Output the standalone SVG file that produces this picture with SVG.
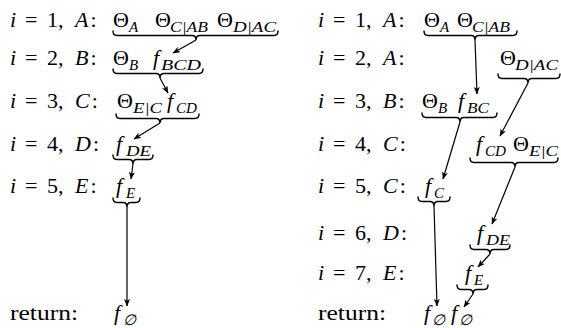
<svg xmlns="http://www.w3.org/2000/svg" width="561" height="328" viewBox="0 0 561 328">
<style>
text{font-family:Liberation Serif, Times New Roman, Times, DejaVu Serif, serif;font-size:22px;fill:#000}
.it{font-style:italic}
.s{font-size:15px;font-style:italic}
.br{fill:none;stroke:#000;stroke-width:1.4;stroke-linecap:round}
.ar{fill:none;stroke:#000;stroke-width:1.2;marker-end:url(#ah)}
</style>
<defs>
<marker id="ah" markerUnits="userSpaceOnUse" markerWidth="9" markerHeight="8" refX="7" refY="3" orient="auto">
<path d="M0,0 L7.5,3 L0,6 L1.8,3 z" fill="#000"/>
</marker>
</defs>
<rect width="561" height="328" fill="#fff"/>

<g id="labels-left">
<text y="27"><tspan x="10" class="it">i</tspan><tspan x="25">=</tspan><tspan x="47">1,</tspan><tspan x="75" class="it">A</tspan><tspan dx="2">:</tspan></text>
<text y="65"><tspan x="10" class="it">i</tspan><tspan x="25">=</tspan><tspan x="47">2,</tspan><tspan x="75" class="it">B</tspan><tspan dx="2">:</tspan></text>
<text y="108"><tspan x="10" class="it">i</tspan><tspan x="25">=</tspan><tspan x="47">3,</tspan><tspan x="75" class="it">C</tspan><tspan dx="2">:</tspan></text>
<text y="151"><tspan x="10" class="it">i</tspan><tspan x="25">=</tspan><tspan x="47">4,</tspan><tspan x="75" class="it">D</tspan><tspan dx="2">:</tspan></text>
<text y="193"><tspan x="10" class="it">i</tspan><tspan x="25">=</tspan><tspan x="47">5,</tspan><tspan x="75" class="it">E</tspan><tspan dx="2">:</tspan></text>
<text x="10" y="320" textLength="68" lengthAdjust="spacingAndGlyphs">return:</text>
</g>

<g id="labels-right">
<text y="27"><tspan x="318" class="it">i</tspan><tspan x="333">=</tspan><tspan x="355">1,</tspan><tspan x="383" class="it">A</tspan><tspan dx="2">:</tspan></text>
<text y="65"><tspan x="318" class="it">i</tspan><tspan x="333">=</tspan><tspan x="355">2,</tspan><tspan x="383" class="it">A</tspan><tspan dx="2">:</tspan></text>
<text y="108"><tspan x="318" class="it">i</tspan><tspan x="333">=</tspan><tspan x="355">3,</tspan><tspan x="383" class="it">B</tspan><tspan dx="2">:</tspan></text>
<text y="151"><tspan x="318" class="it">i</tspan><tspan x="333">=</tspan><tspan x="355">4,</tspan><tspan x="383" class="it">C</tspan><tspan dx="2">:</tspan></text>
<text y="193"><tspan x="318" class="it">i</tspan><tspan x="333">=</tspan><tspan x="355">5,</tspan><tspan x="383" class="it">C</tspan><tspan dx="2">:</tspan></text>
<text y="240"><tspan x="318" class="it">i</tspan><tspan x="333">=</tspan><tspan x="355">6,</tspan><tspan x="383" class="it">D</tspan><tspan dx="2">:</tspan></text>
<text y="280"><tspan x="318" class="it">i</tspan><tspan x="333">=</tspan><tspan x="355">7,</tspan><tspan x="383" class="it">E</tspan><tspan dx="2">:</tspan></text>
<text x="318" y="320" textLength="68" lengthAdjust="spacingAndGlyphs">return:</text>
</g>

<!-- left column nodes -->
<g id="L1">
<text x="113" y="27">Θ</text><text class="s" x="129" y="32">A</text>
<text x="155" y="27">Θ</text><text class="s" x="170" y="32" textLength="38" lengthAdjust="spacingAndGlyphs">C|AB</text>
<text x="217" y="27">Θ</text><text class="s" x="233" y="32" textLength="43" lengthAdjust="spacingAndGlyphs">D|AC</text>
<path class="br" d="M113,31 Q113,35.5 117,35.5 L192,35.5 Q196,35.5 196,40 Q196,35.5 200,35.5 L274,35.5 Q278,35.5 278,31"/>
</g>
<g id="L2">
<text x="113" y="65">Θ</text><text class="s" x="129" y="70">B</text>
<text class="it" x="153" y="65">f</text><text class="s" x="161" y="70" textLength="40" lengthAdjust="spacingAndGlyphs">BCD</text>
<path class="br" d="M113,69 Q113,73.5 117,73.5 L156,73.5 Q160,73.5 160,78 Q160,73.5 164,73.5 L199,73.5 Q203,73.5 203,69"/>
</g>
<g id="L3">
<text x="117" y="108">Θ</text><text class="s" x="133" y="113" textLength="29" lengthAdjust="spacingAndGlyphs">E|C</text>
<text class="it" x="167" y="108">f</text><text class="s" x="176" y="113" textLength="21" lengthAdjust="spacingAndGlyphs">CD</text>
<path class="br" d="M116,114 Q116,118.5 120,118.5 L156,118.5 Q160,118.5 160,123 Q160,118.5 164,118.5 L195,118.5 Q199,118.5 199,114"/>
</g>
<g id="L4">
<text class="it" x="116" y="151">f</text><text class="s" x="126" y="156" textLength="25" lengthAdjust="spacingAndGlyphs">DE</text>
<path class="br" d="M113,155 Q113,159.5 117,159.5 L129,159.5 Q133,159.5 133,164 Q133,159.5 137,159.5 L149,159.5 Q153,159.5 153,155"/>
</g>
<g id="L5">
<text class="it" x="116" y="193">f</text><text class="s" x="126" y="198">E</text>
<path class="br" d="M113,198 Q113,202.5 117,202.5 L123,202.5 Q127,202.5 127,207 Q127,202.5 131,202.5 L136,202.5 Q140,202.5 140,198"/>
</g>
<g id="L6">
<text class="it" x="114" y="320">f</text><text class="s" x="123" y="325">∅</text>
</g>

<!-- right column nodes -->
<g id="R1">
<text x="424" y="27">Θ</text><text class="s" x="440" y="32">A</text>
<text x="457" y="27">Θ</text><text class="s" x="472" y="32" textLength="38" lengthAdjust="spacingAndGlyphs">C|AB</text>
<path class="br" d="M424,31 Q424,35.5 428,35.5 L471,35.5 Q475,35.5 475,40 Q475,35.5 479,35.5 L513,35.5 Q517,35.5 517,31"/>
</g>
<g id="R2">
<text x="500" y="65">Θ</text><text class="s" x="515" y="70" textLength="43" lengthAdjust="spacingAndGlyphs">D|AC</text>
<path class="br" d="M498,74 Q498,78.5 502,78.5 L524,78.5 Q528,78.5 528,83 Q528,78.5 532,78.5 L556,78.5 Q560,78.5 560,74"/>
</g>
<g id="R3">
<text x="422" y="108">Θ</text><text class="s" x="438" y="113">B</text>
<text class="it" x="458" y="108">f</text><text class="s" x="467" y="113" textLength="22" lengthAdjust="spacingAndGlyphs">BC</text>
<path class="br" d="M422,113 Q422,117.5 426,117.5 L456,117.5 Q460,117.5 460,122 Q460,117.5 464,117.5 L493,117.5 Q497,117.5 497,113"/>
</g>
<g id="R4">
<text class="it" x="476" y="151">f</text><text class="s" x="485" y="156" textLength="21" lengthAdjust="spacingAndGlyphs">CD</text>
<text x="513" y="151">Θ</text><text class="s" x="529" y="156" textLength="29" lengthAdjust="spacingAndGlyphs">E|C</text>
<path class="br" d="M470,158 Q470,162.5 474,162.5 L511,162.5 Q515,162.5 515,167 Q515,162.5 519,162.5 L554,162.5 Q558,162.5 558,158"/>
</g>
<g id="R5">
<text class="it" x="425" y="193">f</text><text class="s" x="434" y="198">C</text>
<path class="br" d="M418,197 Q418,201.5 422,201.5 L430,201.5 Q434,201.5 434,206 Q434,201.5 438,201.5 L446,201.5 Q450,201.5 450,197"/>
</g>
<g id="R6">
<text class="it" x="477" y="240">f</text><text class="s" x="486" y="245" textLength="24" lengthAdjust="spacingAndGlyphs">DE</text>
<path class="br" d="M470,245 Q470,249.5 474,249.5 L486,249.5 Q490,249.5 490,254 Q490,249.5 494,249.5 L506,249.5 Q510,249.5 510,245"/>
</g>
<g id="R7">
<text class="it" x="465" y="280">f</text><text class="s" x="474" y="285">E</text>
<path class="br" d="M457,285 Q457,289.5 461,289.5 L469,289.5 Q473,289.5 473,294 Q473,289.5 477,289.5 L484,289.5 Q488,289.5 488,285"/>
</g>
<g id="R8">
<text class="it" x="424" y="320">f</text><text class="s" x="432" y="325">∅</text>
<text class="it" x="451" y="320">f</text><text class="s" x="459" y="325">∅</text>
</g>

<g id="connectors">
<line class="ar" x1="196" y1="40" x2="173" y2="53"/>
<line class="ar" x1="160" y1="78" x2="168" y2="93"/>
<line class="ar" x1="160" y1="123" x2="134" y2="139"/>
<line class="ar" x1="133" y1="164" x2="131" y2="179"/>
<line class="ar" x1="127" y1="207" x2="127" y2="306"/>
<line class="ar" x1="475" y1="40" x2="477" y2="94"/>
<line class="ar" x1="528" y1="83" x2="500" y2="136"/>
<line class="ar" x1="460" y1="122" x2="443" y2="179"/>
<line class="ar" x1="515" y1="167" x2="492" y2="224"/>
<line class="ar" x1="434" y1="206" x2="437" y2="306"/>
<line class="ar" x1="490" y1="254" x2="478" y2="267"/>
<line class="ar" x1="473" y1="294" x2="464" y2="307"/>
</g>
</svg>
